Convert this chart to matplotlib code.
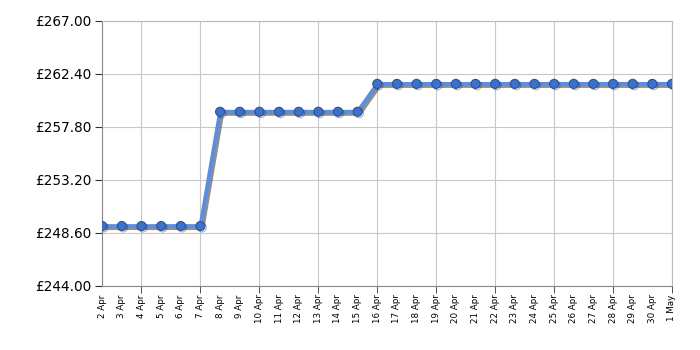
import matplotlib
matplotlib.use("Agg")
import matplotlib.pyplot as plt
import matplotlib.patheffects as pe

dates = ["2 Apr", "3 Apr", "4 Apr", "5 Apr", "6 Apr", "7 Apr", "8 Apr", "9 Apr", "10 Apr",
         "11 Apr", "12 Apr", "13 Apr", "14 Apr", "15 Apr", "16 Apr", "17 Apr", "18 Apr",
         "19 Apr", "20 Apr", "21 Apr", "22 Apr", "23 Apr", "24 Apr", "25 Apr", "26 Apr",
         "27 Apr", "28 Apr", "29 Apr", "30 Apr", "1 May"]
prices = [249.20] * 6 + [259.12] * 8 + [261.54] * 16
yticks = [244.00, 248.60, 253.20, 257.80, 262.40, 267.00]

fig = plt.figure(figsize=(7, 3.5), dpi=100)
ax = fig.add_axes([0.146, 0.183, 0.814, 0.757])

x = list(range(len(dates)))
ax.plot(x, prices, color="#5a8ee0", lw=2.8, zorder=3, solid_joinstyle="round",
        path_effects=[pe.SimpleLineShadow(offset=(1.5, -1.5), shadow_color="#333333", alpha=0.55),
                      pe.Normal()])
ax.plot(x, prices, ls="none", marker="o", ms=6.5,
        mfc="#3b72c8", mec="#2b5395", mew=0.8, zorder=4,
        path_effects=[pe.SimpleLineShadow(offset=(1, -1), shadow_color="#222222", alpha=0.35),
                      pe.Normal()])

ax.set_xlim(0, len(dates) - 1)
ax.set_ylim(yticks[0], yticks[-1])
ax.set_yticks(yticks)
ax.set_yticklabels([f"£{v:.2f}" for v in yticks], fontsize=9.8)
ax.xaxis.remove_overlapping_locs = False
ax.set_xticks(x)
ax.set_xticklabels(dates, rotation=90, fontsize=6.3, va="top", ha="center")
ax.set_xticks(x[2::3], minor=True)
ax.tick_params(axis="x", which="major", length=0, pad=6)
ax.tick_params(axis="x", which="minor", length=5, color="#333333")
ax.tick_params(axis="y", length=5, color="#333333", pad=3)

ax.grid(axis="y", which="major", color="#c8c8c8", lw=0.8)
ax.grid(axis="x", which="minor", color="#c8c8c8", lw=0.8)
ax.set_axisbelow(True)
for s in ["left", "bottom"]:
    ax.spines[s].set_color("#888888")
for s in ["top", "right"]:
    ax.spines[s].set_color("#bbbbbb")

fig.savefig("out.png", dpi=100)
